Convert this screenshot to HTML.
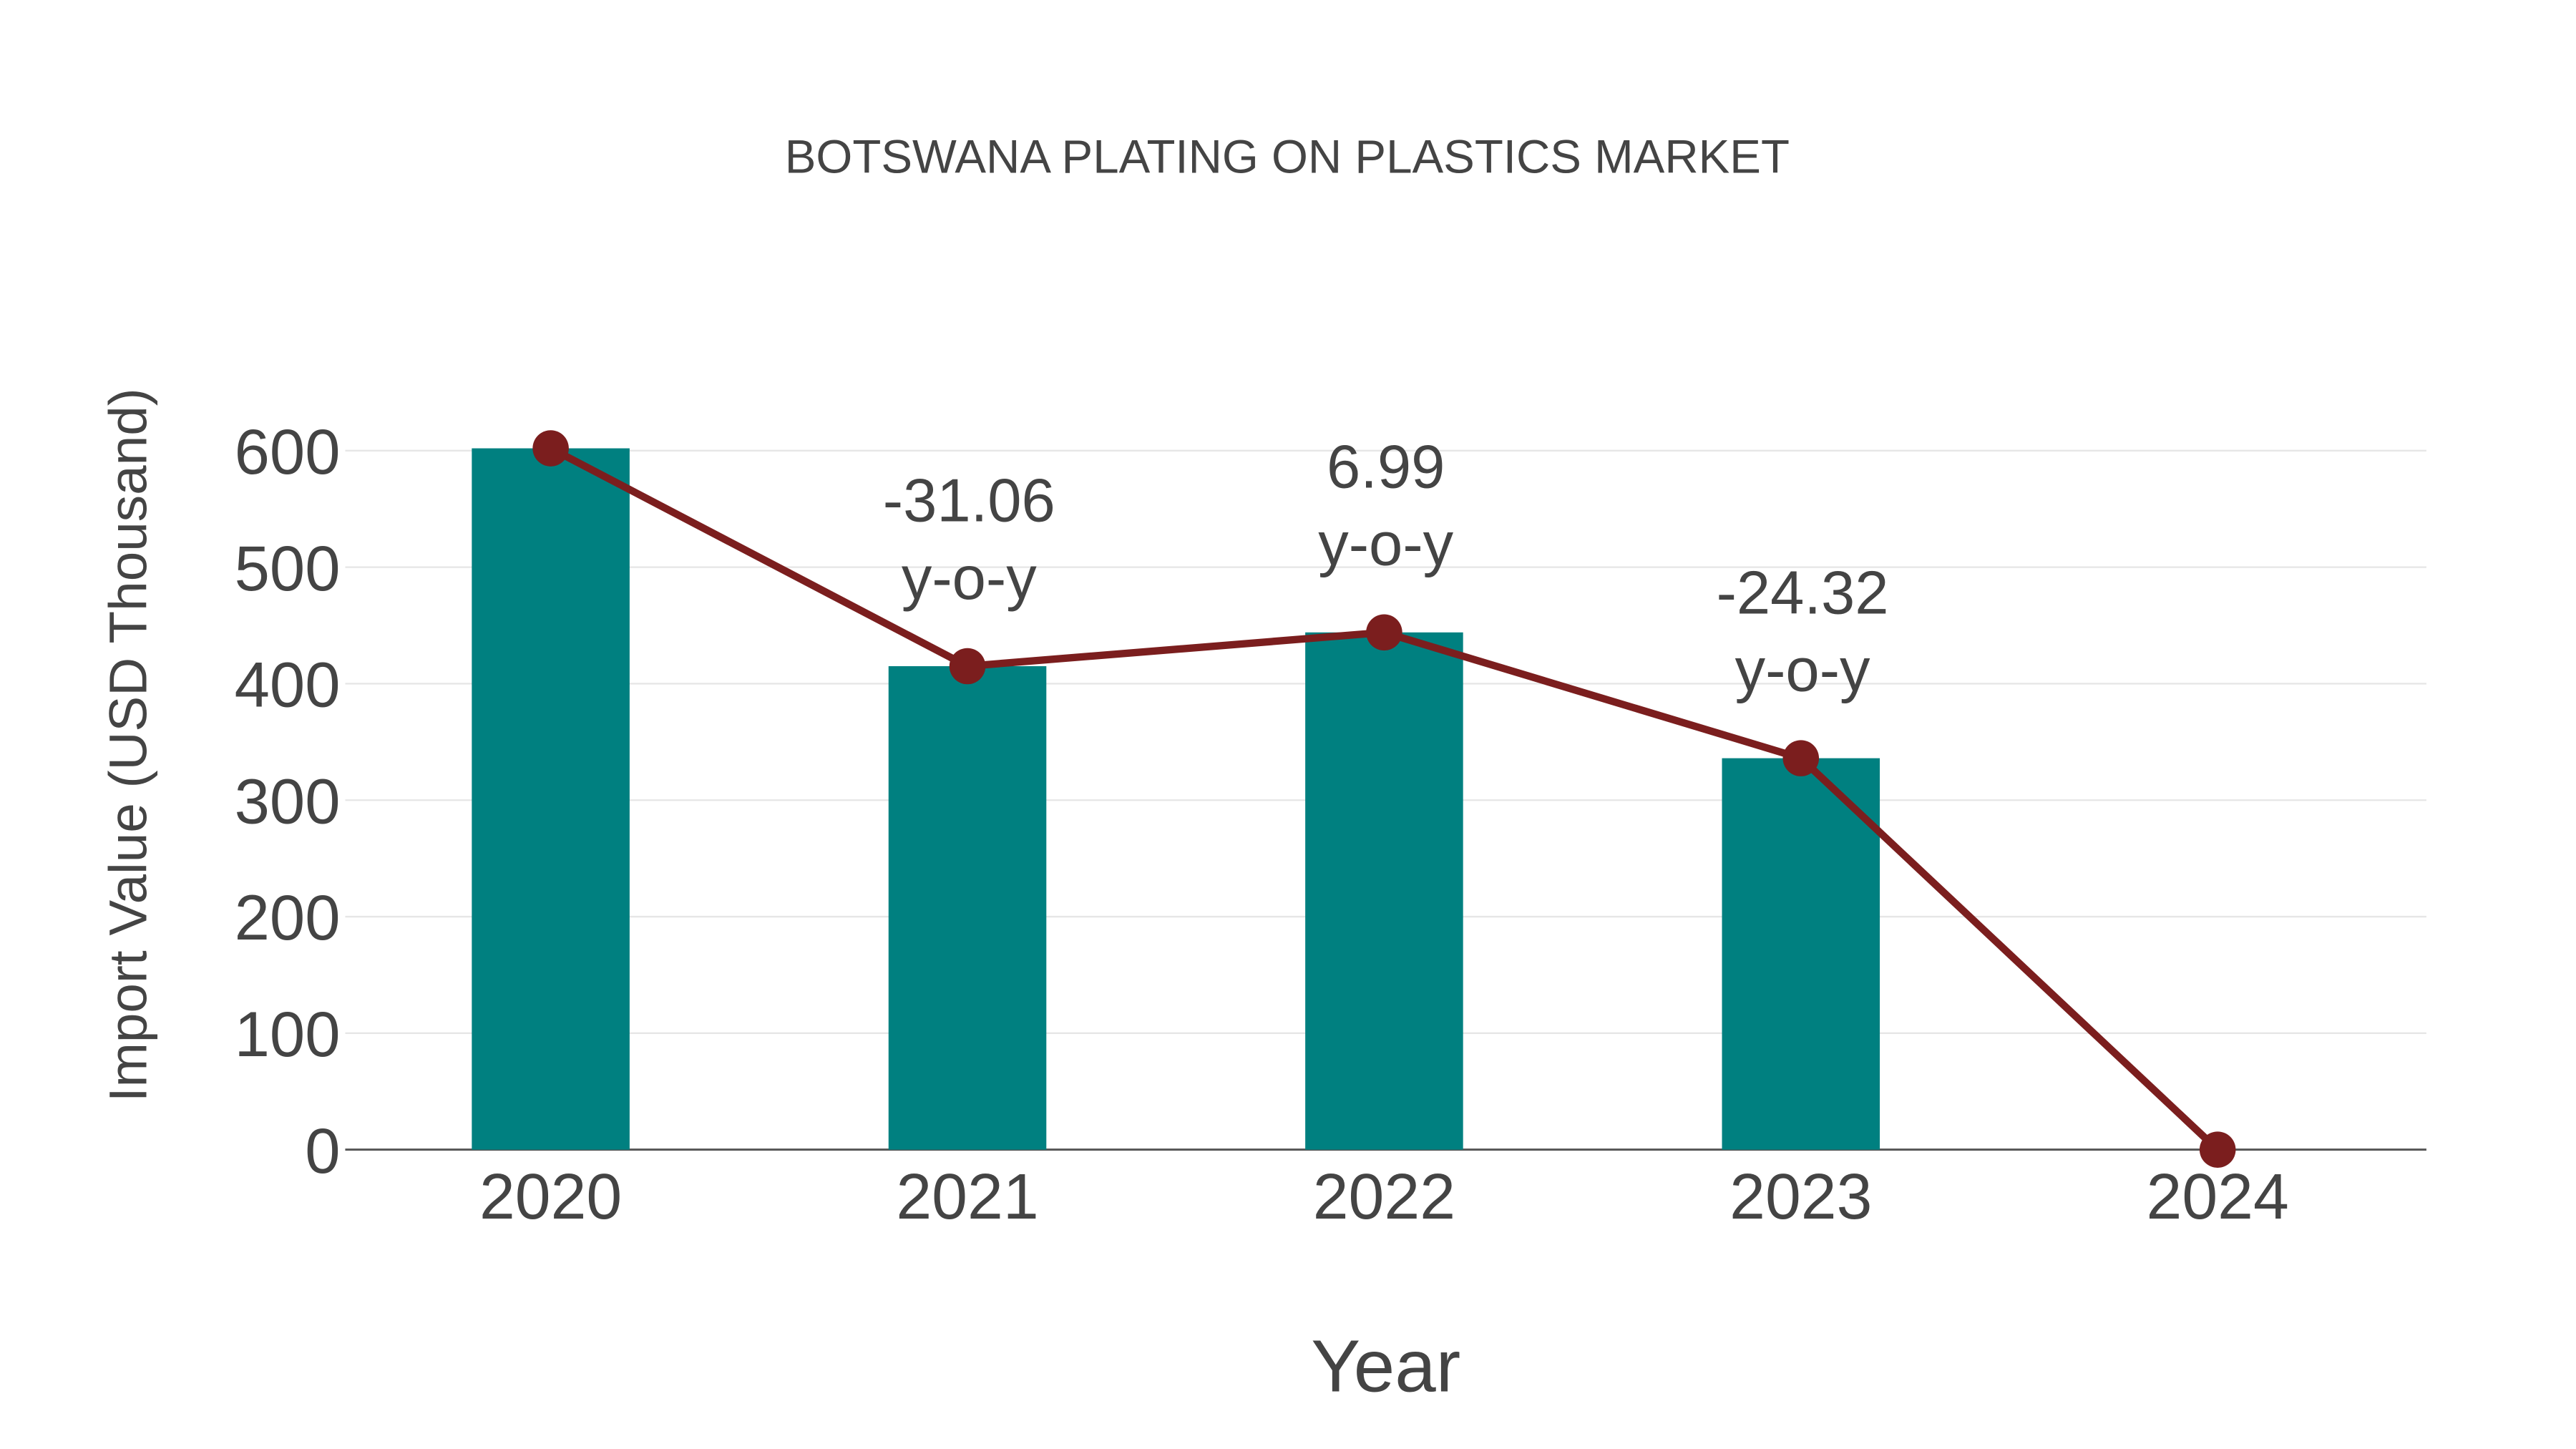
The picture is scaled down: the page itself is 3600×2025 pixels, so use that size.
<!DOCTYPE html>
<html>
<head>
<meta charset="utf-8">
<style>
  html,body{margin:0;padding:0;background:#fff;}
  svg{display:block;}
  text{font-family:"Liberation Sans", Arial, sans-serif;fill:#444;}
</style>
</head>
<body>
<svg id="chart" width="3600" height="2025" viewBox="0 0 1567 881" preserveAspectRatio="none" xmlns="http://www.w3.org/2000/svg">
  <text x="783" y="105" text-anchor="middle" font-size="28.5">BOTSWANA PLATING ON PLASTICS MARKET</text>
  <g id="grid"></g>
  <g id="bars"></g>
  <g id="line"></g>
  <g id="yticks"></g>
  <g id="xticks"></g>
  <g id="annots"></g>
  <text x="843" y="846" text-anchor="middle" font-size="45">Year</text>
  <text x="0" y="0" text-anchor="middle" font-size="32.5" transform="translate(89,453) rotate(-90)">Import Value (USD Thousand)</text>
</svg>
<script>
const categories = ["2020","2021","2022","2023","2024"];
const barValues = [602, 415, 444, 336, 0];
const lineValues = [602, 415, 444, 336, 0];
const yoyLabels = ["", "-31.06", "6.99", "-24.32", ""];
const yTicks = [0,100,200,300,400,500,600];

const NS = "http://www.w3.org/2000/svg";
const plotL = 210, plotR = 1476, y0 = 699, yPer = 425/600;
const xScale = i => 335 + i * 253.5;
const yScale = v => y0 - v * yPer;
function mk(tag, attrs, parent){const e=document.createElementNS(NS,tag);for(const k in attrs)e.setAttribute(k,attrs[k]);parent.appendChild(e);return e;}

const grid = document.getElementById('grid');
const yt = document.getElementById('yticks');
yTicks.forEach(t=>{
  if(t>0){
    const g = mk('line',{x1:plotL,x2:plotR,y1:yScale(t),y2:yScale(t),stroke:'#e6e6e6','stroke-width':1},grid);
    
    
  }
  const tx = mk('text',{x:207,y:yScale(t)+14,'text-anchor':'end','font-size':38.6},yt);
  tx.textContent = t;
  
  
});
const ax = mk('line',{x1:plotL,x2:plotR,y1:y0,y2:y0,stroke:'#555','stroke-width':1.3},grid);



const bars = document.getElementById('bars');
const xt = document.getElementById('xticks');
categories.forEach((c,i)=>{
  const v = barValues[i];
  const r = mk('rect',{x:xScale(i)-48,y:yScale(v),width:96,height:y0-yScale(v),fill:'#008080'},bars);
  
  
  const t = mk('text',{x:xScale(i),y:741,'text-anchor':'middle','font-size':39},xt);
  t.textContent = c;
  
  
});

const lg = document.getElementById('line');
const pts = lineValues.map((v,i)=>xScale(i)+','+yScale(v)).join(' ');
const pl = mk('polyline',{points:pts,fill:'none',stroke:'#7b1e1e','stroke-width':4.5,'stroke-linejoin':'round'},lg);


lineValues.forEach((v,i)=>{
  const c = mk('circle',{cx:xScale(i),cy:yScale(v),r:11,fill:'#7b1e1e'},lg);
  
  
});

const an = document.getElementById('annots');
yoyLabels.forEach((l,i)=>{
  if(!l) return;
  const yy = yScale(lineValues[i]);
  const a = mk('text',{x:xScale(i)+1,y:yy-88,'text-anchor':'middle','font-size':37},an);
  a.textContent = l;
  
  
  const b = mk('text',{x:xScale(i)+1,y:yy-41,'text-anchor':'middle','font-size':37},an);
  b.textContent = 'y-o-y';
  
  
});
</script>
</body>
</html>
